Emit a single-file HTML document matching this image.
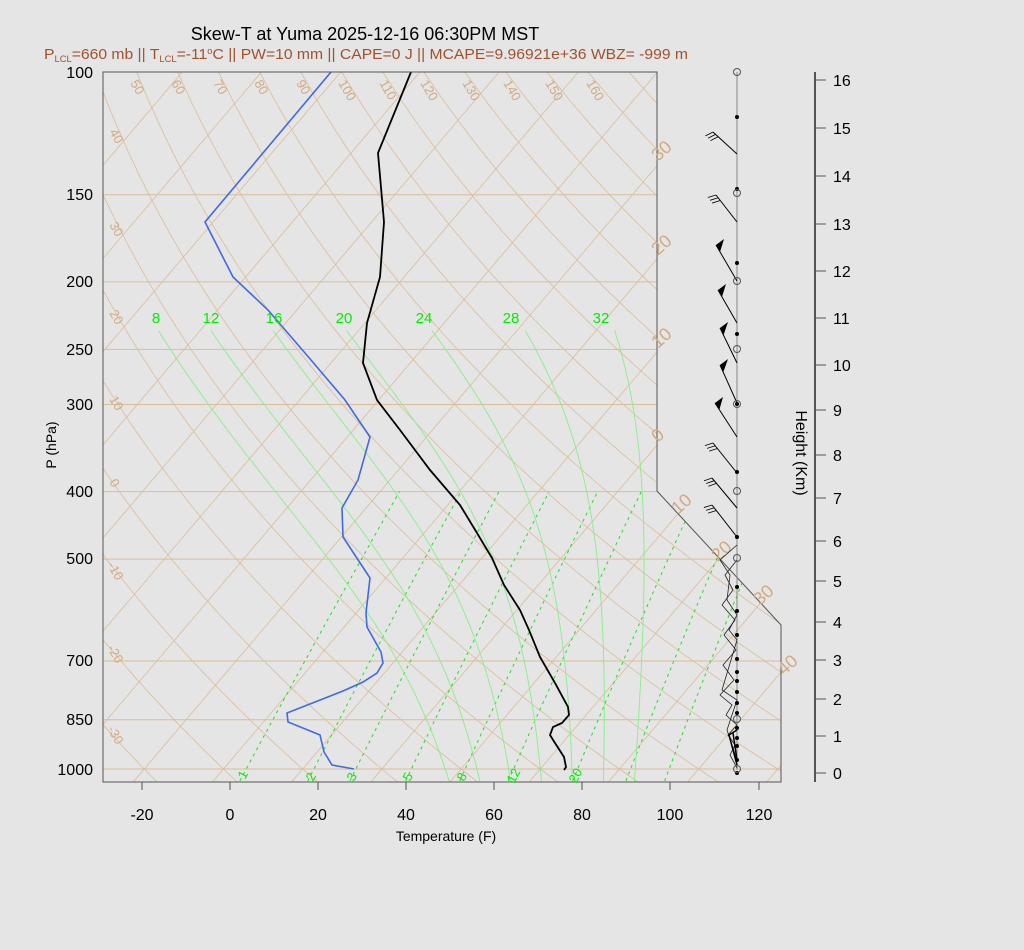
<!DOCTYPE html>
<html><head><meta charset="utf-8">
<style>
html,body{margin:0;padding:0;background:#e5e5e5;}
svg{display:block;font-family:"Liberation Sans",sans-serif;}
</style></head>
<body>
<svg id="s" width="1024" height="950" viewBox="0 0 1024 950" xmlns="http://www.w3.org/2000/svg">
<rect width="1024" height="950" fill="#e5e5e5"/>
<defs><clipPath id="cp"><polygon points="103,72 657,72 657,491 781,625 781,782 103,782"/></clipPath></defs>
<g id="grid" clip-path="url(#cp)"></g>
<g id="prof" clip-path="url(#cp)"></g>
<polygon points="103,72 657,72 657,491 781,625 781,782 103,782" fill="none" stroke="#555" stroke-width="1"/>
<text x="365" y="40" font-size="18" text-anchor="middle" fill="#000">Skew-T at Yuma 2025-12-16 06:30PM MST</text>
<text x="44" y="59" font-size="15" fill="#a0522d" textLength="644" lengthAdjust="spacingAndGlyphs">P<tspan font-size="9" dy="3">LCL</tspan><tspan dy="-3">=660 mb || T</tspan><tspan font-size="9" dy="3">LCL</tspan><tspan dy="-3">=-11</tspan><tspan font-size="9" dy="-5">o</tspan><tspan dy="5">C || PW=10 mm || CAPE=0 J || MCAPE=9.96921e+36 WBZ= -999 m</tspan></text>
<g font-size="16" text-anchor="end" fill="#000">
<text x="93" y="78">100</text><text x="93" y="200">150</text><text x="93" y="287">200</text>
<text x="93" y="355">250</text><text x="93" y="410">300</text><text x="93" y="497">400</text>
<text x="93" y="564">500</text><text x="93" y="666">700</text><text x="93" y="725">850</text>
<text x="93" y="775">1000</text>
</g>
<text transform="translate(56,445) rotate(-90)" font-size="14" text-anchor="middle">P (hPa)</text>
<g stroke="#555" stroke-width="1"><line x1="142" y1="782" x2="142" y2="790"/><line x1="230" y1="782" x2="230" y2="790"/><line x1="318" y1="782" x2="318" y2="790"/><line x1="406" y1="782" x2="406" y2="790"/><line x1="494" y1="782" x2="494" y2="790"/><line x1="582" y1="782" x2="582" y2="790"/><line x1="670" y1="782" x2="670" y2="790"/><line x1="759" y1="782" x2="759" y2="790"/></g>
<g font-size="16" text-anchor="middle">
<text x="142" y="820">-20</text><text x="230" y="820">0</text><text x="318" y="820">20</text><text x="406" y="820">40</text><text x="494" y="820">60</text><text x="582" y="820">80</text><text x="670" y="820">100</text><text x="759" y="820">120</text>
</g>
<text x="446" y="841" font-size="14" text-anchor="middle">Temperature (F)</text>
<line x1="815" y1="72" x2="815" y2="782" stroke="#555" stroke-width="2"/>
<g id="hax" font-size="16"></g>
<text transform="translate(796,453) rotate(90)" font-size="16" text-anchor="middle">Height (Km)</text>
<g font-size="13" fill="#d2aa80">
<text transform="translate(130,83) rotate(60)">50</text><text transform="translate(171,83) rotate(60)">60</text><text transform="translate(213,83) rotate(60)">70</text><text transform="translate(254,83) rotate(60)">80</text><text transform="translate(296,83) rotate(60)">90</text><text transform="translate(338,83) rotate(60)">100</text><text transform="translate(379,83) rotate(60)">110</text><text transform="translate(420,83) rotate(60)">120</text><text transform="translate(462,83) rotate(60)">130</text><text transform="translate(503,83) rotate(60)">140</text><text transform="translate(545,83) rotate(60)">150</text><text transform="translate(586,83) rotate(60)">160</text>
<text transform="translate(109,132) rotate(60)">40</text><text transform="translate(109,225) rotate(60)">30</text><text transform="translate(109,313) rotate(60)">20</text><text transform="translate(109,399) rotate(60)">10</text><text transform="translate(109,482) rotate(60)">0</text><text transform="translate(107,565) rotate(60)">-10</text><text transform="translate(107,648) rotate(60)">-20</text><text transform="translate(107,729) rotate(60)">-30</text>
</g>
<g font-size="18" fill="#d2aa80">
<text transform="translate(658,162) rotate(-42)">30</text><text transform="translate(658,256) rotate(-42)">20</text><text transform="translate(658,349) rotate(-42)">10</text><text transform="translate(658,443) rotate(-42)">0</text><text transform="translate(678,515) rotate(-42)">10</text><text transform="translate(718,562) rotate(-42)">20</text><text transform="translate(760,606) rotate(-42)">30</text><text transform="translate(784,676) rotate(-42)">40</text>
</g>
<g font-size="15" fill="#00ee00" text-anchor="middle">
<text x="156" y="323">8</text><text x="211" y="323">12</text><text x="274" y="323">16</text><text x="344" y="323">20</text><text x="424" y="323">24</text><text x="511" y="323">28</text><text x="601" y="323">32</text>
</g>
<g font-size="13" fill="#00ee00">
<text transform="translate(245,780) rotate(-62)">1</text><text transform="translate(313,782) rotate(-62)">2</text><text transform="translate(354,782) rotate(-62)">3</text><text transform="translate(410,782) rotate(-62)">5</text><text transform="translate(464,782) rotate(-62)">8</text><text transform="translate(514,784) rotate(-62)">12</text><text transform="translate(576,784) rotate(-62)">20</text>
</g>
<g id="wind"></g>
<script>
(function(){
var NS="http://www.w3.org/2000/svg";
function Y(p){return 72+302.7*Math.log(p/100);}
function X(Tc,p){return 230+4.4*(Tc*1.8+32)+0.85*(782-Y(p));}
function el(par,tag,at){var e=document.createElementNS(NS,tag);for(var k in at)e.setAttribute(k,at[k]);par.appendChild(e);return e;}
var g=document.getElementById('grid');
var tan="#dabd98";
[100,150,200,250,300,400,500,700,850,1000].forEach(function(p){el(g,'line',{x1:103,x2:781,y1:Y(p),y2:Y(p),stroke:tan,'stroke-width':1});});
for(var T=-140;T<=60;T+=10){el(g,'line',{x1:X(T,1050),y1:Y(1050),x2:X(T,95),y2:Y(95),stroke:tan,'stroke-width':0.8});}
for(var th=-60;th<=200;th+=10){var pts=[];for(var p=1050;p>=95;p-=10){var Tk=(th+273.15)*Math.pow(p/1000,0.2857);pts.push(X(Tk-273.15,p).toFixed(1)+','+Y(p).toFixed(1));}
el(g,'polyline',{points:pts.join(' '),fill:'none',stroke:tan,'stroke-width':0.8});}
[1,2,3,5,8,12,20,30,40].forEach(function(w){var pts=[];for(var p=1040;p>=400;p-=10){var e=w*p/(622+w);var l=Math.log(e/6.112);var Td=243.5*l/(17.67-l);pts.push(X(Td,p).toFixed(1)+','+Y(p).toFixed(1));}
el(g,'polyline',{points:pts.join(' '),fill:'none',stroke:'#22dd22','stroke-width':1,'stroke-dasharray':'3,4'});});
function dT(T,p){var Tc=T-273.15;var es=6.112*Math.exp(17.67*Tc/(Tc+243.5));var rs=0.622*es/(p-es);return (287*T+2.5e6*rs)/(1004+2.5e6*2.5e6*rs*0.622/(287*T*T));}
[8,12,16,20,24,28,32].forEach(function(tw){var T=tw+273.15;var down=[];var T2=T;for(var q=1000;q<1050;q+=5){var d=dT(T2,q);T2+=d*Math.log((q+5)/q);down.unshift(X(T2-273.15,q+5).toFixed(1)+','+Y(q+5).toFixed(1));}
var pts=down.slice();pts.push(X(tw,1000).toFixed(1)+','+Y(1000).toFixed(1));
for(var q=1000;q>238;q-=5){var d=dT(T,q);T+=d*Math.log((q-5)/q);pts.push(X(T-273.15,q-5).toFixed(1)+','+Y(q-5).toFixed(1));}
el(g,'polyline',{points:pts.join(' '),fill:'none',stroke:'#88ee88','stroke-width':0.9});});
var pr=document.getElementById('prof');
el(pr,'polyline',{points:"411,72 378,153 384,222 380,277 367,323 363,363 377,400 400,430 430,470 460,505 477,533 492,558 504,585 520,610 529,630 540,657 555,683 568,707 569,715 562,723 553,727 550,735 555,743 564,757 566,767 564,770",fill:'none',stroke:'#000','stroke-width':1.8});
el(pr,'polyline',{points:"331,72 205,222 233,277 268,310 311,360 345,400 370,437 358,480 342,508 343,537 370,578 366,613 367,627 381,652 383,663 377,673 363,682 343,691 287,713 288,722 320,735 324,752 332,765 354,769",fill:'none',stroke:'#4169e1','stroke-width':1.6});
var h=document.getElementById('hax');var hy=[773,736,699,660,622,581,541,498,455,410,365,318,271,224,176,128,80];
hy.forEach(function(y,i){el(h,'line',{x1:815,x2:826,y1:y,y2:y,stroke:'#555','stroke-width':1});var t=el(h,'text',{x:833,y:y+6});t.textContent=i;});
var w=document.getElementById('wind');
el(w,'line',{x1:737,y1:72,x2:737,y2:770,stroke:'#888','stroke-width':1});
var barbs=[[154,713,132,'f'],[222,716,195,'f'],[281,716,245,'p'],[323,718,290,'p'],[363,720,328,'p'],[403,720,365,'p'],[437,715,403,'p'],[473,713,443,'f'],[508,712,478,'f'],[537,712,505,'f']];
barbs.forEach(function(b){el(w,'line',{x1:737,y1:b[0],x2:b[1],y2:b[2],stroke:'#000','stroke-width':1});
var dx=(b[1]-737),dy=(b[2]-b[0]);var L=Math.sqrt(dx*dx+dy*dy);var ux=dx/L,uy=dy/L;
if(b[3]=='p'){el(w,'polygon',{points:b[1]+','+b[2]+' '+(b[1]+8)+','+(b[2]-6)+' '+(b[1]-ux*8)+','+(b[2]-uy*8),fill:'#000'});}
else{var px=uy,py=-ux;if(px>0){px=-px;py=-py;}
for(var i=0;i<3;i++){var fx=b[1]-ux*i*3.5,fy=b[2]-uy*i*3.5;el(w,'line',{x1:fx,y1:fy,x2:fx+px*8+ux*3,y2:fy+py*8+uy*3,stroke:'#000','stroke-width':0.8});}}});
el(w,'path',{d:"M737,560 L725,575 L733,590 L722,605 L735,620 L724,635 L736,650 L723,665 L734,680 L720,695 L732,705 L726,715 L737,725 L728,735 L735,745 L730,755 L737,768",fill:'none',stroke:'#222','stroke-width':0.8});
el(w,'path',{d:"M737,545 L720,560 L730,575 L727,600 L737,615 L729,630 L737,640 L722,690 L737,700 L727,730 L737,760",fill:'none',stroke:'#222','stroke-width':0.8});
el(w,'path',{d:"M737,730 L729,735 L737,765 M733,733 L737,760",fill:'none',stroke:'#000','stroke-width':1.5});
[117,189,263,334,404,472,537,587,611,635,659,672,681,692,703,713,728,738,746,760,773].forEach(function(y){el(w,'circle',{cx:737,cy:y,r:2,fill:'#000'});});
[72,193,281,349,404,491,558,719,769].forEach(function(y){el(w,'circle',{cx:737,cy:y,r:3.5,fill:'none',stroke:'#555','stroke-width':1});});
})();
</script>
</svg>
</body></html>
